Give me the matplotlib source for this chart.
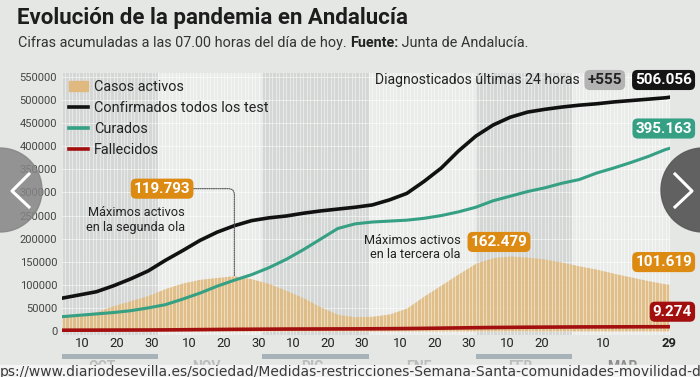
import matplotlib
matplotlib.use("Agg")
import matplotlib.pyplot as plt
import matplotlib.dates as mdates
from matplotlib.patches import Patch, Rectangle, Circle
from matplotlib.lines import Line2D
import pandas as pd

plt.rcParams['font.family'] = ['Roboto', 'DejaVu Sans']

# values (thousands), every 5 days from 4 Oct + last day
fechas = list(pd.date_range("2020-10-04", periods=36, freq="5D")) + [pd.Timestamp("2021-03-29")]
activos = [31, 36, 42, 55, 66, 77, 92, 104, 112, 116,
           119.793, 113, 103, 88, 72, 52, 36, 31, 32, 37,
           50, 76, 100, 124, 147, 159, 162.479, 160, 156, 149,
           141, 134, 125, 117, 109, 102, 101.619]
confirmados = [71, 78, 85, 98, 113, 130, 153, 174, 196, 214,
               228, 239, 245, 249, 255, 260, 264, 268, 273, 284,
               298, 324, 353, 390, 422, 446, 463, 474, 480, 485,
               489, 492, 496, 499, 502, 505, 506.056]
curados = [31, 34, 37, 40, 44, 50, 57, 69, 82, 97,
           110, 122, 137, 155, 176, 199, 222, 232, 236, 238,
           240, 244, 250, 258, 268, 282, 292, 302, 310, 320,
           328, 342, 353, 365, 378, 393, 395.163]
fallecidos = [1.7, 1.8, 1.9, 2.0, 2.1, 2.2, 2.4, 2.7, 3.0, 3.3,
              3.6, 3.8, 4.0, 4.2, 4.3, 4.4, 4.5, 4.6, 4.8, 5.0,
              5.3, 5.7, 6.2, 6.7, 7.2, 7.6, 7.9, 8.2, 8.4, 8.6,
              8.8, 8.9, 9.0, 9.1, 9.2, 9.25, 9.274]

tick_fechas = ["2020-10-10", "2020-10-20", "2020-10-30", "2020-11-10", "2020-11-20", "2020-11-30",
               "2020-12-10", "2020-12-20", "2020-12-30", "2021-01-10", "2021-01-20", "2021-01-30",
               "2021-02-10", "2021-02-20", "2021-03-10", "2021-03-29"]
tick_labels = ["10", "20", "30", "10", "20", "30", "10", "20", "30", "10", "20", "30", "10", "20", "10", "29"]
meses = ["OCT", "NOV", "DIC", "ENE", "FEB", "MAR"]
inicio_meses = ["2020-10-01", "2020-11-01", "2020-12-01", "2021-01-01", "2021-02-01", "2021-03-01", "2021-04-01"]
y_ticks = list(range(0, 550001, 50000))

NARANJA = "#dc8a12"
VERDE = "#35a083"
ROJO = "#a30f0f"
TAN = "#dfb97f"

W, H = 700, 377
def fx(x):
    return x / W
def fy(y):
    return 1 - y / H

fig = plt.figure(figsize=(7, 3.77), dpi=100)
fig.patch.set_facecolor("#e4e7e4")
ax = fig.add_axes([fx(62), fy(335), 608 / W, 262 / H])
ax.set_facecolor("#e4e7e4")

x0 = mdates.date2num(pd.Timestamp("2020-10-01")) + 3.04
x1 = mdates.date2num(pd.Timestamp("2020-10-01")) + 179.28
ax.set_xlim(x0, x1)
ax.set_ylim(-4 * 2165.4, 550000 + 4 * 2165.4)

# month shading + daily stripes
mnum = [mdates.date2num(pd.Timestamp(m)) for m in inicio_meses]
for i in range(6):
    a, b = max(mnum[i], x0), min(mnum[i + 1], x1)
    ax.axvspan(a, b, color="#d3d7d4" if i % 2 == 0 else "#eaecea", lw=0, zorder=0)
    if i % 2 == 0:
        ax.add_patch(Rectangle((a, -0.092), b - a, 0.018, transform=ax.get_xaxis_transform(),
                               color="#a8b3b9", clip_on=False, lw=0))
    ax.text((mnum[i] + mnum[i + 1]) / 2 - 1, -0.122, meses[i], transform=ax.get_xaxis_transform(),
            ha="center", va="center", fontsize=10, fontweight="bold",
            color="#8c8c8c" if meses[i] == "MAR" else "#b9bcbc", clip_on=False)
for d in pd.date_range("2020-10-04", "2021-03-29"):
    ax.axvline(d, color="white", lw=0.8, alpha=0.45, zorder=1.5)
for y in y_ticks:
    ax.axhline(y, color="white", lw=0.6, alpha=0.6, zorder=0.6)

ax.fill_between(fechas, [v * 1000 for v in activos], color=TAN, alpha=0.9, lw=0, zorder=1)
ax.plot(fechas, [v * 1000 for v in confirmados], color="#111111", lw=2.6, zorder=3)
ax.plot(fechas, [v * 1000 for v in curados], color=VERDE, lw=2.2, zorder=3)
ax.plot(fechas, [v * 1000 for v in fallecidos], color=ROJO, lw=2.6, zorder=4)

for s in ax.spines.values():
    s.set_visible(False)
ax.set_yticks(y_ticks)
ax.set_yticklabels([str(v) for v in y_ticks], fontsize=8, color="#444444")
ax.set_xticks([pd.Timestamp(t) for t in tick_fechas])
ax.set_xticklabels(tick_labels, fontsize=9.4, color="#222222")
ax.get_xticklabels()[-1].set_fontweight("bold")
ax.tick_params(length=0)
ax.tick_params(axis="y", pad=3.5)
ax.tick_params(axis="x", pad=1.5)

leg = ax.legend(handles=[Patch(color=TAN, label="Casos activos"),
                         Line2D([], [], color="#111111", lw=2.6, label="Confirmados todos los test"),
                         Line2D([], [], color=VERDE, lw=2.6, label="Curados"),
                         Line2D([], [], color=ROJO, lw=2.6, label="Fallecidos")],
                loc="upper left", bbox_to_anchor=(0.0115, 0.973), frameon=False, fontsize=10.4,
                borderpad=0, borderaxespad=0, handlelength=1.3, handletextpad=0.45, labelspacing=0.48)
for t in leg.get_texts():
    t.set_color("#222222")

def caja(texto, i, serie, dx, dy, color):
    ax.annotate(texto, xy=(fechas[i], serie[i] * 1000), xytext=(dx, dy), textcoords="offset pixels",
                ha="right", va="center", fontsize=11, fontweight="bold", color="white", zorder=6,
                annotation_clip=False,
                bbox=dict(boxstyle="round,pad=0.2,rounding_size=0.35", fc=color, ec="none"))

caja("395.163", -1, curados, 23, 20, VERDE)
caja("101.619", -1, activos, 23, 22, NARANJA)
caja("9.274", -1, fallecidos, 23, 15, ROJO)
caja("162.479", 26, activos, 17, 14, NARANJA)

ax.annotate("119.793", xy=(fechas[10], activos[10] * 1000), xytext=(-44, 87), textcoords="offset pixels",
            ha="right", va="center", fontsize=11, fontweight="bold", color="white", zorder=6,
            bbox=dict(boxstyle="round,pad=0.2,rounding_size=0.35", fc=NARANJA, ec="none"),
            arrowprops=dict(arrowstyle="-", color="#555555", lw=0.8, ls=(0, (1, 1)),
                            connectionstyle="angle,angleA=0,angleB=90,rad=6", shrinkA=0, shrinkB=0))

for xr, y, txt in [(185, 213, "Máximos activos"), (185, 227, "en la segunda ola"),
                   (461, 241, "Máximos activos"), (461, 255, "en la tercera ola")]:
    fig.text(fx(xr), fy(y), txt, ha="right", va="center", fontsize=9.2, color="#222222")

# header
fig.text(fx(17), fy(18), "Evolución de la pandemia en Andalucía", fontsize=16, fontweight="bold",
         color="#1d1d1d", va="center")
r = fig.canvas.get_renderer()
t1 = fig.text(fx(18), fy(43), "Cifras acumuladas a las 07.00 horas del día de hoy. ", fontsize=10.4,
              color="#333333", va="center")
b1 = t1.get_window_extent(r)
t2 = fig.text(b1.x1 / W, fy(43), "Fuente:", fontsize=10.4, fontweight="bold", color="#222222", va="center")
b2 = t2.get_window_extent(r)
fig.text(b2.x1 / W, fy(43), " Junta de Andalucía.", fontsize=10.4, color="#333333", va="center")

fig.text(fx(580), fy(80), "Diagnosticados últimas 24 horas", ha="right", va="center", fontsize=10.1,
         color="#222222")
fig.text(fx(622), fy(80), "+555", ha="right", va="center", fontsize=11, fontweight="bold",
         color="#222222", bbox=dict(boxstyle="round,pad=0.2,rounding_size=0.35", fc="#b3b3b3", ec="none"))
fig.text(fx(692), fy(80), "506.056", ha="right", va="center", fontsize=11, fontweight="bold",
         color="white", bbox=dict(boxstyle="round,pad=0.2,rounding_size=0.35", fc="#151515", ec="none"))

# browser overlay: url bar and carousel arrows
fig.patches.append(Rectangle((0, 0), 1, fy(365), transform=fig.transFigure, color="#f4f4f4", zorder=8))
fig.text(0, fy(376), "ps://www.diariodesevilla.es/sociedad/Medidas-restricciones-Semana-Santa-comunidades-movilidad-d",
         fontsize=10.0, color="#3a3a3a", va="baseline", family="DejaVu Sans", zorder=9)
tr = fig.dpi_scale_trans
fig.patches.append(Circle((0, (H - 190) / 100), 0.42, transform=tr, color="#858585", alpha=0.85, zorder=8))
fig.patches.append(Circle((7.03, (H - 190) / 100), 0.42, transform=tr, color="#5a5a5a", alpha=0.95, zorder=8))
fig.lines.append(Line2D([0.29, 0.12, 0.29], [(H - 174) / 100, (H - 191) / 100, (H - 207) / 100],
                        transform=tr, color="white", lw=2.2, zorder=9))
fig.lines.append(Line2D([6.75, 6.92, 6.75], [(H - 174) / 100, (H - 191) / 100, (H - 207) / 100],
                        transform=tr, color="white", lw=2.2, zorder=9))

fig.savefig("out.png", dpi=100, facecolor=fig.get_facecolor())
